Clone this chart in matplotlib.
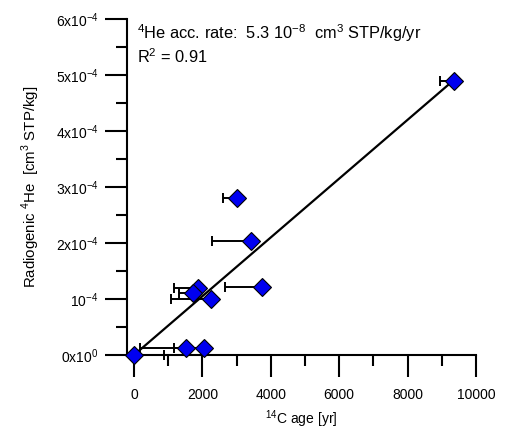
# 4He accumulation vs 14C age
import numpy as np
import matplotlib
matplotlib.use('Agg')
import matplotlib.pyplot as plt

plt.rcParams['font.family'] = 'Liberation Sans'
plt.rcParams['mathtext.fontset'] = 'custom'
plt.rcParams['mathtext.rm'] = 'Liberation Sans'
plt.rcParams['font.size'] = 10

# data
age = [0, 1520, 2047, 3020, 3421, 3752, 1862, 1716, 2242, 9357]
he4 = [0.0, 1.2e-5, 1.2e-5, 2.80e-4, 2.04e-4, 1.21e-4, 1.19e-4, 1.11e-4, 1.00e-4, 4.90e-4]
err_lo = [0, 1345, 880, 430, 1150, 1090, 690, 400, 1170, 410]
err_hi = [890, 0, 0, 0, 0, 0, 0, 0, 0, 0]

# regression line
rate = 5.25e-8
icpt = 0.0
fit_x = [0, 9300]

yticks = [0, 1e-4, 2e-4, 3e-4, 4e-4, 5e-4, 6e-4]
ylabels = ['0x10$^{0}$', '10$^{-4}$', '2x10$^{-4}$', '3x10$^{-4}$',
           '4x10$^{-4}$', '5x10$^{-4}$', '6x10$^{-4}$']
xticks = [0, 2000, 4000, 6000, 8000, 10000]

fig = plt.figure(figsize=(5.05, 4.29), dpi=100)
ax = fig.add_axes([127/505, 1-355/429, 349/505, 336/429])

fx = np.array(fit_x)
ax.plot(fx, rate*fx + icpt, color='black', lw=1.6, zorder=2)

ax.errorbar(age, he4, xerr=[err_lo, err_hi], fmt='none', ecolor='black',
            elinewidth=1.4, capsize=3.5, capthick=1.4, zorder=3, clip_on=False)
ax.plot(age, he4, 'D', ms=9, mfc='#0000F0', mec='black', mew=0.8,
        ls='none', zorder=4, clip_on=False)

ax.set_xlim(-205, 10000)
ax.set_ylim(0, 6e-4)
ax.set_xticks(xticks)
ax.set_xticks(np.arange(1000, 10000, 2000), minor=True)
ax.set_yticks(yticks)
ax.set_yticklabels(ylabels)
ax.set_yticks(np.arange(0.5e-4, 6e-4, 1e-4), minor=True)

for s in ['top', 'right']:
    ax.spines[s].set_visible(False)
for s in ['left', 'bottom']:
    ax.spines[s].set_linewidth(1.5)
ax.tick_params(which='major', length=15.5, width=1.5, pad=5, labelsize=10)
ax.tick_params(axis='x', which='major', pad=8)
ax.tick_params(which='minor', length=8, width=1.5)

ax.set_xlabel('$^{14}$C age [yr]', labelpad=5)
ax.set_ylabel('Radiogenic $^{4}$He  [cm$^{3}$ STP/kg]', labelpad=10, fontsize=10.8)

fig.text(137/505, 1-39/429,
         '$^{4}$He acc. rate:  5.3 10$^{-8}$  cm$^{3}$ STP/kg/yr', va='baseline',
         fontsize=11.8)
fig.text(137/505, 1-63/429, 'R$^{2}$ = 0.91', va='baseline', fontsize=11.8)

fig.savefig('out.png', dpi=100)
